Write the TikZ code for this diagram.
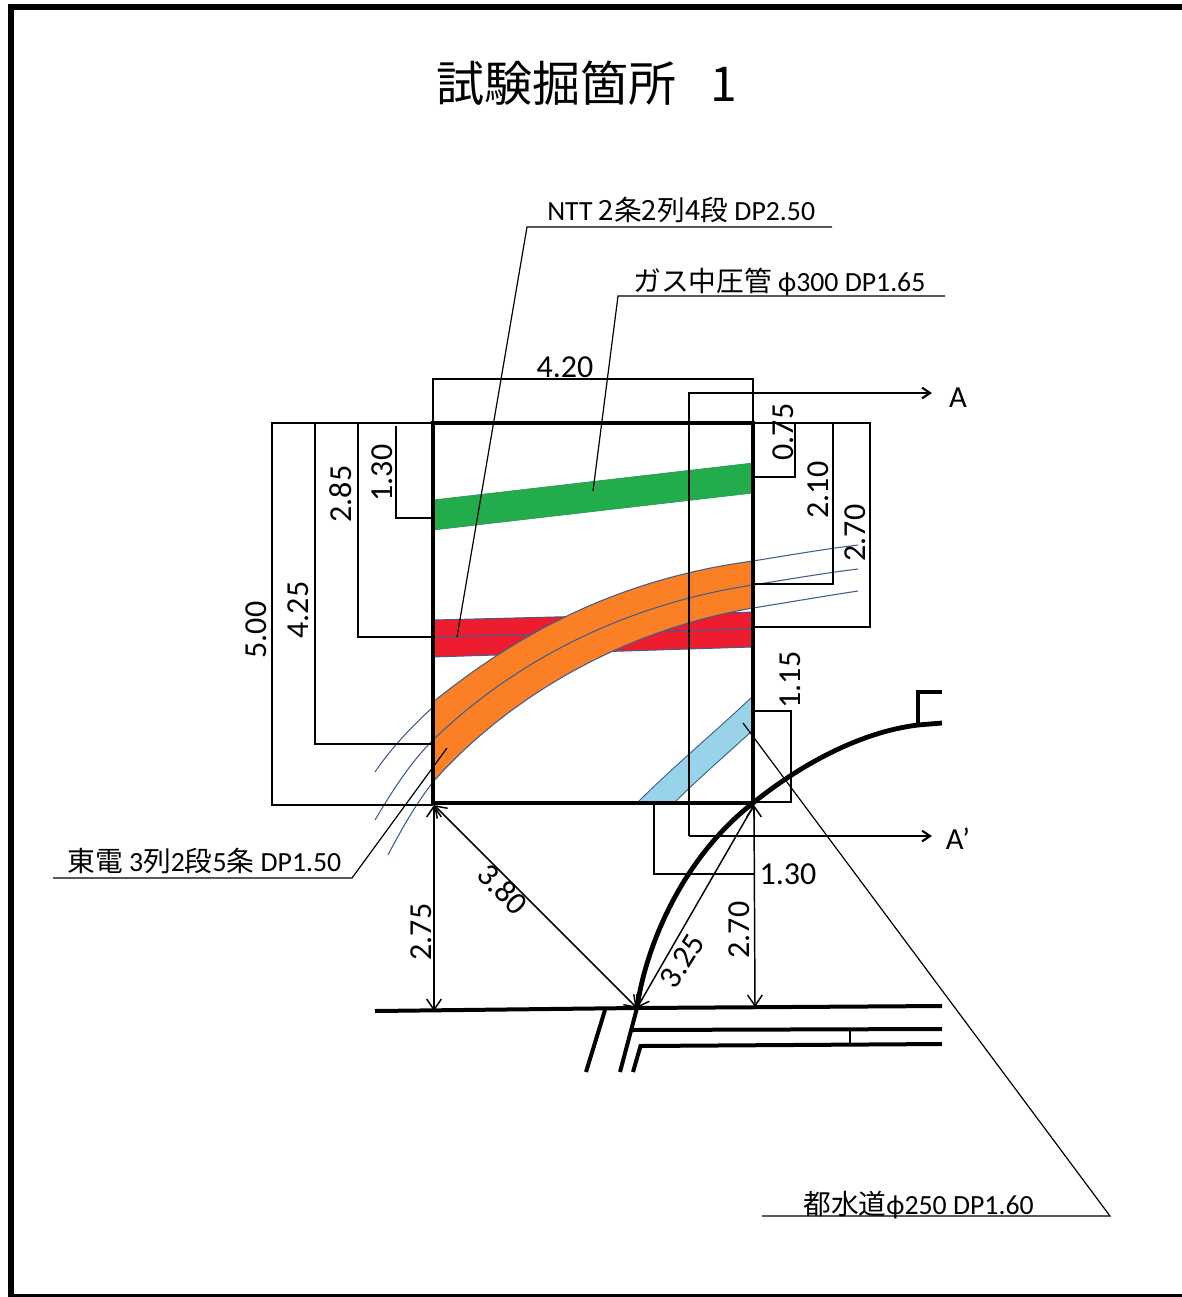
\documentclass[tikz,border=0pt]{standalone}
\usepackage{fontspec}
\setmainfont{Carlito}
\newfontfamily\jp{Noto Sans CJK JP}
\usetikzlibrary{arrows.meta}
\definecolor{gasgreen}{HTML}{22AC4C}
\definecolor{ductred}{HTML}{ED1C2E}
\definecolor{elecorange}{HTML}{FB7F24}
\definecolor{waterblue}{HTML}{99D3E9}
\definecolor{edgeblue}{HTML}{3F5F8F}
\tikzset{
  boxline/.style={line width=2.7pt},
  dimline/.style={line width=1.9pt},
  roadline/.style={line width=3pt},
  leader/.style={line width=0.9pt},
  arrowline/.style={line width=1.1pt,{Straight Barb[length=8pt,width=11pt]}-{Straight Barb[length=8pt,width=11pt]}},
  secline/.style={line width=1.6pt,-{Straight Barb[length=6pt,width=8pt]}},
  edge/.style={draw=edgeblue,line width=0.8pt},
  dimtext/.style={font=\fontsize{24}{24}\selectfont,inner sep=0pt},
  labeltext/.style={font=\fontsize{20.8}{21}\selectfont,inner sep=0pt,anchor=west}
}
\begin{document}
\begin{tikzpicture}[x=0.75pt,y=-0.75pt]
\useasboundingbox (0,0) rectangle (1182,1297);
\fill[white] (0,0) rectangle (1182,1297);
% frame
\fill[black] (8,4) rectangle (1182,10);
\fill[black] (8,4) rectangle (14,1297);
\fill[black] (8,1294) rectangle (1182,1297);
% title
\node[inner sep=0pt] (title) at (587,83) {\fontsize{36}{36}\selectfont\jp 試験掘箇所\hspace{0.7em}1};
% fills
\fill[gasgreen,draw=gasgreen!70!edgeblue,line width=0.5pt] (433,500) -- (753,463) -- (753,493) -- (433,530) -- cycle;
\fill[ductred,draw=edgeblue,line width=0.7pt] (433,620) -- (753,612) -- (753,647) -- (433,657) -- cycle;
\draw[edge] (433,637) -- (753,629);
\path[fill=elecorange,draw=edgeblue,line width=0.8pt] (433,702) .. controls (510,640) and (610,580) .. (753,561)
  -- (753,608) .. controls (625,630) and (510,695) .. (433,782) -- cycle;
\draw[edge] (433,740) .. controls (510,665) and (620,605) .. (753,585);
% extensions
\draw[edge] (753,561) .. controls (790,555) and (825,549) .. (858,545);
\draw[edge] (753,585) .. controls (790,579) and (825,573) .. (858,569);
\draw[edge] (753,608) .. controls (790,602) and (825,596) .. (858,591);
\draw[edge] (433,707) .. controls (408,730) and (390,750) .. (375,772);
\draw[edge] (433,740) .. controls (408,765) and (390,795) .. (375,820);
\draw[edge] (433,782) .. controls (415,805) and (400,832) .. (388,855);
% water
\path[fill=waterblue,draw=edgeblue,line width=0.7pt] (753,696) .. controls (715,732) and (675,765) .. (637,803)
  -- (674,803) .. controls (700,777) and (727,754) .. (753,730) -- cycle;
% leaders
\coordinate (nA) at (832,227); \coordinate (nB) at (527,227); \coordinate (nC) at (457,637);
\draw[leader] (nA) -- (nB) -- (nC);
\coordinate (gA) at (945,296); \coordinate (gB) at (618,296); \coordinate (gC) at (593,491);
\draw[leader] (gA) -- (gB) -- (gC);
\coordinate (eA) at (53,878); \coordinate (eB) at (352,878); \coordinate (eC) at (447,748);
\draw[leader] (eA) -- (eB) -- (eC);
\coordinate (wA) at (762,1216); \coordinate (wB) at (1110,1216); \coordinate (wC) at (743,723);
\draw[leader] (wA) -- (wB) -- (wC);
% dimension boxes
\draw[dimline] (433,423) -- (433,379) -- (753,379) -- (753,423);
\draw[dimline] (433,423) -- (272,423) -- (272,805) -- (433,805);
\draw[dimline] (315,423) -- (315,744) -- (433,744);
\draw[dimline] (358,423) -- (358,637) -- (433,637);
\draw[dimline] (396,426) -- (396,518) -- (433,518);
\draw[dimline] (753,423) -- (870,423) -- (870,627) -- (753,627);
\draw[dimline] (795,423) -- (795,477) -- (753,477);
\draw[dimline] (833,423) -- (833,584) -- (753,584);
\draw[dimline] (753,711) -- (791,711) -- (791,802) -- (753,802);
\draw[dimline] (654,803) -- (654,874) -- (754,874);
% section line
\coordinate (aR) at (932,393); \coordinate (aB) at (932,836);
\draw[secline] (689,836) -- (689,393) -- (aR);
\draw[secline] (689,836) -- (aB);
\node[inner sep=0pt] (labA) at (958,398) {\fontsize{23}{23}\selectfont A};
\node[inner sep=0pt] (labAp) at (958,839) {\fontsize{23}{23}\selectfont A'};
% box
\draw[boxline] (433,423) rectangle (753,803);
\draw[line width=3.4pt] (433,423) -- (433,803);
% road
\draw[line width=3.6pt] (637,1008) .. controls (645,950) and (680,860) .. (753,803) .. controls (800,765) and (860,732) .. (918,725) -- (942,723);
\draw[roadline] (942,692) -- (918,692) -- (918,725);
\draw[roadline] (375,1011) -- (637,1008) -- (942,1006);
\draw[roadline] (605,1010) -- (586,1072);
\draw[roadline] (637,1008) -- (620,1072);
\draw[roadline] (633,1072) -- (640.5,1046) -- (942,1044);
\draw[roadline] (630,1030) -- (942,1029);
\draw[line width=1.8pt] (850,1029) -- (850,1044);
% arrows
\coordinate (tl) at (434,805); \coordinate (tr) at (754,805);
\coordinate (bl) at (434,1011); \coordinate (bm) at (637,1008); \coordinate (br) at (755,1007);
\draw[arrowline] (tl) -- (bl);
\draw[arrowline] (tl) -- (bm);
\draw[arrowline] (tr) -- (bm);
\draw[arrowline] (tr) -- (br);
% dimension labels
\node[dimtext] (d420) at (565,367) {4.20};
\node[dimtext,rotate=90] (d075) at (783,432) {0.75};
\node[dimtext,rotate=90] (d210) at (818,490) {2.10};
\node[dimtext,rotate=90] (d270) at (855,533) {2.70};
\node[dimtext,rotate=90] (d115) at (790,680) {1.15};
\node[dimtext,rotate=90] (d130) at (382,473) {1.30};
\node[dimtext,rotate=90] (d285) at (341,494) {2.85};
\node[dimtext,rotate=90] (d425) at (298,610) {4.25};
\node[dimtext,rotate=90] (d500) at (256,630) {5.00};
\node[dimtext] (d130b) at (788,874) {1.30};
\node[dimtext,rotate=90] (d275) at (421,932) {2.75};
\node[dimtext,rotate=90] (d270b) at (739,930) {2.70};
\node[dimtext,rotate=-45] (d380) at (503,889) {3.80};
\node[dimtext,rotate=58] (d325) at (682,961) {3.25};
% labels
\node[labeltext] (ln) at (547,210) {NTT {\jp 2条2列4段} DP2.50};
\node[labeltext] (lg) at (633,282) {{\jp ガス中圧管} ϕ300 DP1.65};
\node[labeltext] (le) at (67,861) {{\jp 東電} 3{\jp 列}2{\jp 段}5{\jp 条} DP1.50};
\node[labeltext] (lw) at (803,1205) {{\jp 都水道}ϕ250 DP1.60};
\end{tikzpicture}
\end{document}
